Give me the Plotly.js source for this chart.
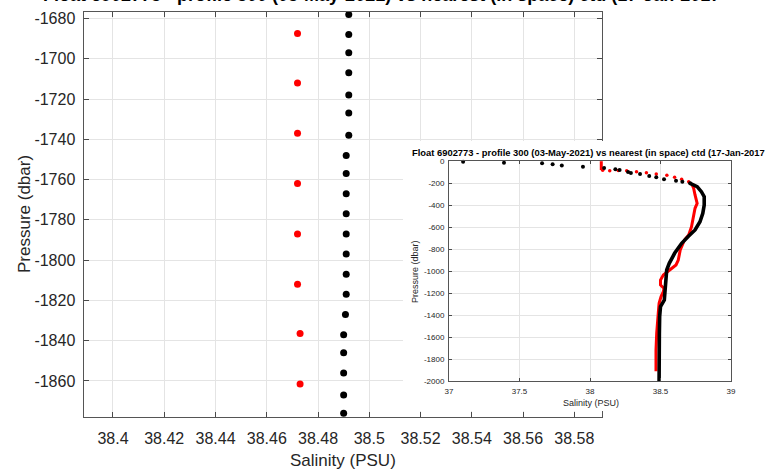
<!DOCTYPE html>
<html><head><meta charset="utf-8">
<script src="https://cdn.plot.ly/plotly-3.0.1.min.js"></script>
<style>html,body{margin:0;padding:0;background:#fff;}#chart{width:783px;height:476px;}</style>
</head><body><div id="chart"></div>
<script>
// ---------- main panel (zoom on 1675-1880 dbar) ----------
const ctdZoomS = [38.492,38.492,38.492,38.492,38.492,38.492,38.492,38.491,38.491,38.491,38.491,38.491,38.491,38.491,38.491,38.4907,38.490,38.490,38.490,38.490,38.490];
const ctdZoomP = [-1678,-1688,-1697,-1707,-1718,-1727,-1738,-1748,-1757,-1767,-1777,-1787,-1797,-1807,-1817,-1827,-1837,-1846,-1856,-1867,-1876];
const floatZoomS = [38.472,38.472,38.472,38.472,38.472,38.472,38.473,38.473];
const floatZoomP = [-1687.5,-1712,-1737,-1762,-1787,-1812,-1836.5,-1861.5];

// ---------- inset: full profiles ----------
const ctdDotS = [37.10,37.39,37.66,37.735,37.80,37.95,38.10,38.18,38.21,38.27,38.29,38.355,38.42,38.47,38.525,38.61,38.655,38.71];
const ctdDotP = [-6,-15,-21,-30,-40,-52,-64,-76,-82,-100,-110,-118,-136,-148,-166,-179,-188,-203];
const ctdLineS = [38.71,38.76,38.79,38.81,38.81,38.80,38.78,38.745,38.70,38.65,38.60,38.58,38.562,38.544,38.537,38.532,38.527,38.50,38.494,38.492,38.49,38.49];
const ctdLineP = [-203,-233,-279,-324,-400,-476,-552,-627,-682,-748,-839,-885,-930,-991,-1082,-1173,-1264,-1324,-1415,-1567,-1718,-2000];
const floatTopS = [38.08,38.08,38.08];
const floatTopP = [-2,-40,-82];
const floatDotS = [38.09,38.14,38.20,38.26,38.33,38.40,38.47,38.545,38.60,38.65,38.70];
const floatDotP = [-85,-88,-86,-88,-97,-106,-118,-130,-148,-166,-188];
const floatLineS = [38.72,38.735,38.745,38.757,38.76,38.745,38.735,38.72,38.70,38.67,38.64,38.626,38.61,38.579,38.544,38.52,38.50,38.50,38.525,38.52,38.504,38.49,38.484,38.477,38.473,38.468,38.468];
const floatLineP = [-203,-248,-309,-355,-385,-430,-506,-597,-673,-718,-809,-900,-945,-976,-1006,-1036,-1082,-1127,-1158,-1188,-1233,-1294,-1385,-1476,-1567,-1718,-1911];

// ---------- ticks / texts ----------
const mainXTicks = [38.4,38.42,38.44,38.46,38.48,38.5,38.52,38.54,38.56,38.58];
const mainXText = ['38.4','38.42','38.44','38.46','38.48','38.5','38.52','38.54','38.56','38.58'];
const mainYTicks = [-1860,-1840,-1820,-1800,-1780,-1760,-1740,-1720,-1700,-1680];
const mainYText = ['-1860','-1840','-1820','-1800','-1780','-1760','-1740','-1720','-1700','-1680'];
const insetXTicks = [37,37.5,38,38.5,39];
const insetXText = ['37','37.5','38','38.5','39'];
const insetYTicks = [-2000,-1800,-1600,-1400,-1200,-1000,-800,-600,-400,-200,0];
const insetYText = ['-2000','-1800','-1600','-1400','-1200','-1000','-800','-600','-400','-200','0'];
const titleText = 'Float 6902773 - profile 300 (03-May-2021) vs nearest (in space) ctd (17-Jan-2017';
const xLabel = 'Salinity (PSU)';
const yLabel = 'Pressure (dbar)';

const W = 783, H = 476;
const px = v => v / W;
const py = v => 1 - v / H;
const FONT = 'Liberation Sans, Arial, Helvetica, sans-serif';

const traces = [
  {x: ctdZoomS, y: ctdZoomP, xaxis:'x', yaxis:'y', mode:'markers', cliponaxis:false,
   marker:{color:'#000000', size:7}, showlegend:false},
  {x: floatZoomS, y: floatZoomP, xaxis:'x', yaxis:'y', mode:'markers', cliponaxis:false,
   marker:{color:'#ff0000', size:7}, showlegend:false},
  // white cover subplot (empty)
  {x: [], y: [], xaxis:'x2', yaxis:'y2', mode:'markers', showlegend:false},
  // inset
  {x: floatTopS, y: floatTopP, xaxis:'x3', yaxis:'y3', mode:'lines', cliponaxis:false,
   line:{color:'#ff0000', width:3}, showlegend:false},
  {x: floatDotS, y: floatDotP, xaxis:'x3', yaxis:'y3', mode:'markers', cliponaxis:false,
   marker:{color:'#ff0000', size:3.5}, showlegend:false},
  {x: floatLineS, y: floatLineP, xaxis:'x3', yaxis:'y3', mode:'lines', cliponaxis:false,
   line:{color:'#ff0000', width:3}, showlegend:false},
  {x: ctdDotS, y: ctdDotP, xaxis:'x3', yaxis:'y3', mode:'markers', cliponaxis:false,
   marker:{color:'#000000', size:4}, showlegend:false},
  {x: ctdLineS, y: ctdLineP, xaxis:'x3', yaxis:'y3', mode:'lines', cliponaxis:false,
   line:{color:'#000000', width:3.6}, showlegend:false}
];

const mainAxis = {
  ticks:'inside', ticklen:5, tickcolor:'#4a4a4a', tickwidth:1,
  showline:true, linecolor:'#555555', linewidth:1, mirror:'ticks',
  showgrid:true, gridcolor:'#e4e4e4', gridwidth:1, zeroline:false,
  tickfont:{family:FONT, size:16, color:'#262626'}, fixedrange:true
};
const insetAxis = {
  ticks:'inside', ticklen:3, tickcolor:'#4a4a4a', tickwidth:1,
  showline:true, linecolor:'#555555', linewidth:1, mirror:'ticks',
  showgrid:true, gridcolor:'#e4e4e4', gridwidth:1, zeroline:false,
  tickfont:{family:FONT, size:8, color:'#262626'}, fixedrange:true
};

const layout = {
  width: W, height: H,
  margin:{l:0, r:0, t:0, b:0, pad:0},
  paper_bgcolor:'#ffffff', plot_bgcolor:'#ffffff',
  showlegend:false,
  xaxis: Object.assign({}, mainAxis, {domain:[px(83.5), px(602)], range:[38.3885, 38.5908],
    tickvals: mainXTicks, ticktext: mainXText, anchor:'y', ticklabelstandoff:7}),
  yaxis: Object.assign({}, mainAxis, {domain:[py(417), py(12)], range:[-1877.9, -1676.8],
    tickvals: mainYTicks, ticktext: mainYText, anchor:'x', ticklabelstandoff:4}),
  xaxis2: {domain:[px(403), 1], range:[0,1], anchor:'y2', showgrid:false, zeroline:false,
    showticklabels:false, ticks:'', showline:false, fixedrange:true},
  yaxis2: {domain:[py(411), py(141)], range:[0,1], anchor:'x2', showgrid:false, zeroline:false,
    showticklabels:false, ticks:'', showline:false, fixedrange:true},
  xaxis3: Object.assign({}, insetAxis, {domain:[px(449), px(731)], range:[37, 39],
    tickvals: insetXTicks, ticktext: insetXText, anchor:'y3', ticklabelstandoff:2}),
  yaxis3: Object.assign({}, insetAxis, {domain:[py(381), py(161)], range:[-2000, 0],
    tickvals: insetYTicks, ticktext: insetYText, anchor:'x3', ticklabelstandoff:2}),
  annotations: [
    {text:'<b>'+titleText+'</b>', xref:'paper', yref:'paper', x:px(381), y:py(7),
     xanchor:'center', yanchor:'bottom', showarrow:false,
     font:{family:FONT, size:18, color:'#000'}},
    {text:xLabel, xref:'paper', yref:'paper', x:px(343), y:py(460),
     xanchor:'center', yanchor:'middle', showarrow:false,
     font:{family:FONT, size:17, color:'#262626'}},
    {text:yLabel, xref:'paper', yref:'paper', x:px(25), y:py(214), textangle:-90,
     xanchor:'center', yanchor:'middle', showarrow:false,
     font:{family:FONT, size:17, color:'#262626'}},
    {text:'<b>'+titleText+'</b>', xref:'paper', yref:'paper', x:px(410), y:py(152.5),
     xanchor:'left', yanchor:'middle', showarrow:false,
     font:{family:FONT, size:9.4, color:'#000'}},
    {text:xLabel, xref:'paper', yref:'paper', x:px(591), y:py(403),
     xanchor:'center', yanchor:'middle', showarrow:false,
     font:{family:FONT, size:9, color:'#262626'}},
    {text:yLabel, xref:'paper', yref:'paper', x:px(415), y:py(271), textangle:-90,
     xanchor:'center', yanchor:'middle', showarrow:false,
     font:{family:FONT, size:9, color:'#262626'}}
  ]
};

Plotly.newPlot('chart', traces, layout, {staticPlot:true, displayModeBar:false});
</script>
</body></html>
